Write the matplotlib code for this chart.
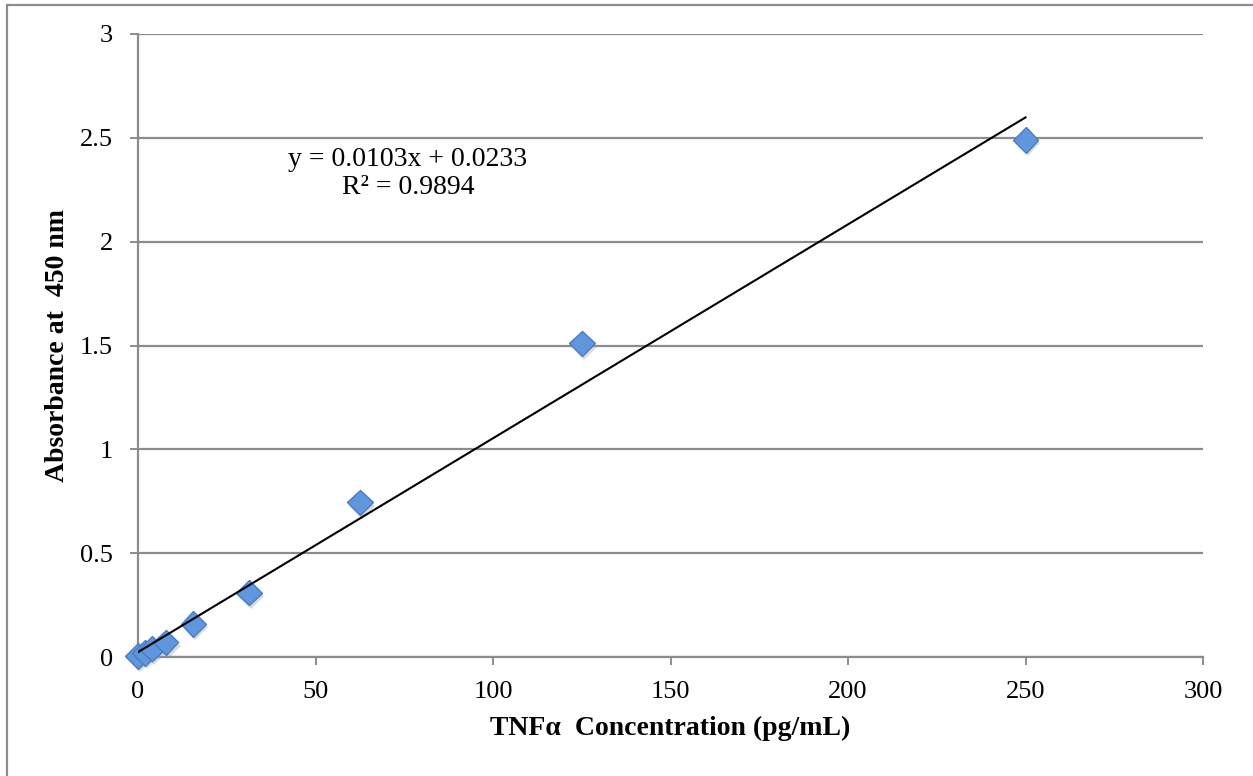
import numpy as np
import matplotlib
matplotlib.use('Agg')
import matplotlib.pyplot as plt
import matplotlib.patheffects as pe
from matplotlib.patches import Rectangle

# standard curve (TNFa ELISA)
conc = [0, 1.95, 3.9, 7.8, 15.6, 31.25, 62.5, 125, 250]
absorb = [0.005, 0.02, 0.04, 0.07, 0.16, 0.31, 0.745, 1.51, 2.49]
slope, intercept = 0.0103, 0.0233
r2 = 0.9894

x_ticks = [0, 50, 100, 150, 200, 250, 300]
y_ticks = [0, 0.5, 1, 1.5, 2, 2.5, 3]
y_tick_labels = ['0', '0.5', '1', '1.5', '2', '2.5', '3']

plt.rcParams['font.family'] = ['Liberation Serif', 'DejaVu Serif']
grey = '#8c8c8c'

fig = plt.figure(figsize=(12.53, 7.76), dpi=100)
ax = fig.add_axes([138 / 1253, 1 - 657 / 776, (1203 - 138) / 1253, (657 - 34) / 776])

# outer chart border (only top and left visible)
fig.add_artist(Rectangle((7 / 1253, -0.1), 1.2, 1 - 5 / 776 + 0.1,
                         transform=fig.transFigure, fill=False,
                         edgecolor=grey, linewidth=1.6))

ax.set_xlim(0, 300)
ax.set_ylim(0, 3)
ax.set_yticks(y_ticks)
ax.set_yticklabels(y_tick_labels)
ax.set_xticks(x_ticks)
ax.yaxis.grid(True, color=grey, linewidth=1.6)
ax.set_axisbelow(True)
for s in ['top', 'right']:
    ax.spines[s].set_visible(False)
for s in ['left', 'bottom']:
    ax.spines[s].set_color(grey)
    ax.spines[s].set_linewidth(1.6)
ax.tick_params(direction='out', length=6, width=1.4, color=grey, labelsize=19)
ax.tick_params(axis='y', pad=12)
ax.tick_params(axis='x', pad=11)

ax.plot(conc, absorb, linestyle='none', marker='D', markersize=13,
        markerfacecolor='#6096dc', markeredgecolor='#4a7cc4', markeredgewidth=1,
        clip_on=False, zorder=3,
        path_effects=[pe.SimplePatchShadow(offset=(1.5, -2.5), shadow_rgbFace='#9a9a9a', alpha=0.35),
                      pe.Normal()])

xfit = np.array([min(conc), max(conc)])
ax.plot(xfit, slope * xfit + intercept, color='black', linewidth=1.5, zorder=4)

ax.text(76, 2.33, 'y = %.4fx + %.4f\nR\u00b2 = %.4f' % (slope, intercept, r2),
        ha='center', va='center', fontsize=20, linespacing=1.15)

ax.set_xlabel('TNF\u03b1  Concentration (pg/mL)', fontsize=20, fontweight='bold')
ax.set_ylabel('Absorbance at  450 nm', fontsize=20, fontweight='bold')
ax.xaxis.set_label_coords(0.5, (657 - 716) / 623)
ax.yaxis.set_label_coords((70 - 138) / 1065, 0.5)

fig.savefig('out.png', dpi=100)
